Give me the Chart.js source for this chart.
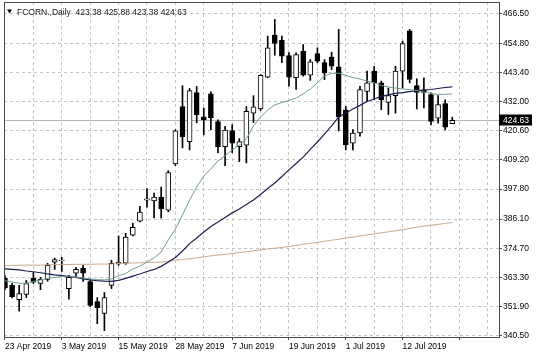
<!DOCTYPE html>
<html>
<head>
<meta charset="utf-8">
<script src="https://cdn.jsdelivr.net/npm/chart.js@4.4.0/dist/chart.umd.min.js"></script>
<style>
html,body{margin:0;padding:0;background:#ffffff;}
#wrap{width:536px;height:358px;position:relative;}
</style>
</head>
<body>
<div id="wrap"><canvas id="c" width="536" height="358"></canvas></div>
<script>
const symbolName = 'FCORN.,Daily';

const dates = ['23 Apr 2019','24 Apr 2019','25 Apr 2019','26 Apr 2019','29 Apr 2019','30 Apr 2019','1 May 2019','2 May 2019','3 May 2019','6 May 2019','7 May 2019','8 May 2019','9 May 2019','10 May 2019','13 May 2019','14 May 2019','15 May 2019','16 May 2019','17 May 2019','20 May 2019','21 May 2019','22 May 2019','23 May 2019','24 May 2019','28 May 2019','29 May 2019','30 May 2019','31 May 2019','3 Jun 2019','4 Jun 2019','5 Jun 2019','6 Jun 2019','7 Jun 2019','10 Jun 2019','11 Jun 2019','12 Jun 2019','13 Jun 2019','14 Jun 2019','17 Jun 2019','18 Jun 2019','19 Jun 2019','20 Jun 2019','21 Jun 2019','24 Jun 2019','25 Jun 2019','26 Jun 2019','27 Jun 2019','28 Jun 2019','1 Jul 2019','2 Jul 2019','3 Jul 2019','5 Jul 2019','8 Jul 2019','9 Jul 2019','10 Jul 2019','11 Jul 2019','12 Jul 2019','15 Jul 2019','16 Jul 2019','17 Jul 2019','18 Jul 2019','19 Jul 2019','22 Jul 2019','23 Jul 2019'];

const openP = [363.0,360.2,354.6,356.6,362.9,360.9,362.5,369.2,369.8,358.9,
  364.9,366.8,361.7,353.8,349.2,360.2,368.6,368.8,379.8,385.3,
  393.5,393.2,394.7,389.6,407.6,430.0,416.3,435.5,426.0,435.0,
  424.2,414.4,420.7,414.4,415.0,427.5,429.1,441.5,458.0,455.9,
  450.0,441.3,451.7,442.3,450.7,447.2,449.4,445.6,428.8,415.7,
  419.7,436.0,443.9,439.3,431.7,434.3,443.9,459.6,438.2,436.5,
  434.7,425.5,431.2,423.38];
const highP = [364.0,361.0,360.2,362.1,365.3,363.3,368.8,370.8,371.1,364.1,
  367.2,368.0,362.5,355.4,357.4,370.0,379.5,380.5,384.5,391.1,
  398.0,396.2,398.6,405.0,421.0,438.2,437.1,437.9,429.5,435.8,
  424.9,422.3,423.0,417.5,430.1,434.3,442.5,457.6,464.1,457.6,
  451.1,451.0,454.3,448.4,453.0,448.4,451.3,460.2,430.1,421.0,
  437.9,443.9,445.8,440.0,437.3,445.8,455.6,460.2,440.9,441.3,
  435.4,434.3,432.7,425.88];
const lowP = [358.5,355.3,350.1,355.4,360.9,358.5,361.8,366.4,365.6,354.8,
  363.3,361.7,351.9,345.2,342.5,358.9,368.0,368.4,379.5,385.0,
  390.7,386.5,386.5,388.9,407.0,413.9,413.1,423.7,419.0,421.0,
  411.9,406.9,412.0,408.5,408.0,423.8,428.5,441.3,450.1,447.2,
  438.0,436.7,441.9,440.3,447.2,440.6,444.5,420.5,413.1,413.1,
  418.5,432.1,432.7,428.8,426.9,427.5,437.3,439.3,429.1,429.5,
  422.9,423.6,420.9,423.38];
const closeP = [359.2,355.8,357.0,360.9,361.4,362.5,368.0,370.3,370.1,363.3,
  366.4,364.9,352.3,351.5,355.4,368.8,369.2,379.0,382.9,388.8,
  394.0,394.7,390.0,404.2,420.6,418.2,436.3,426.9,424.8,425.7,
  414.4,420.9,415.7,416.4,428.2,429.9,442.2,453.0,454.7,449.7,
  441.5,450.4,442.3,447.5,447.8,443.2,445.8,426.0,415.1,419.7,
  436.7,439.3,439.3,432.7,434.3,443.9,454.7,440.6,435.6,435.6,
  424.2,430.8,422.0,424.63];

const maFast = [362.0,361.5,361.0,361.0,361.7,362.3,362.9,363.3,363.6,363.8,
  363.4,363.1,362.7,362.4,362.3,362.7,364.0,364.8,366.6,367.7,
  369.3,370.9,373.2,377.9,382.2,387.7,393.5,398.6,402.9,405.7,
  408.8,410.9,413.1,415.0,417.4,422.5,426.0,428.7,430.7,431.6,
  432.4,433.4,435.0,436.9,439.3,442.0,443.0,443.1,442.2,441.4,
  440.8,440.0,439.3,438.3,437.7,437.3,436.9,436.7,436.3,435.7,
  435.2,434.8,434.8,435.0];
const maMid = [366.6,366.4,366.2,365.8,365.5,365.1,364.7,364.3,364.0,363.7,
  363.3,362.7,362.3,362.0,361.8,361.7,362.1,362.9,363.8,364.6,
  365.6,366.4,367.6,369.3,371.1,373.6,376.5,378.7,381.0,383.2,
  384.9,386.7,388.5,390.0,391.8,393.5,395.7,398.0,400.2,402.7,
  405.3,407.8,410.3,413.3,416.2,419.3,422.5,426.0,427.5,429.1,
  430.5,432.0,433.0,434.0,434.6,435.2,435.5,435.9,436.3,436.5,
  436.7,437.1,437.5,437.7];
const maSlow = [367.9,368.0,368.0,368.1,368.1,368.1,368.2,368.3,368.3,368.3,
  368.4,368.4,368.4,368.5,368.5,368.5,368.7,368.8,368.9,369.0,
  369.1,369.2,369.3,369.6,370.0,370.3,370.6,370.9,371.3,371.7,
  372.0,372.3,372.6,373.0,373.3,373.7,374.0,374.4,374.7,375.0,
  375.4,375.8,376.2,376.6,377.0,377.4,377.8,378.2,378.7,379.0,
  379.5,379.9,380.3,380.7,381.1,381.5,381.9,382.4,382.9,383.3,
  383.7,384.0,384.4,384.7];

const priceTicks = [466.50, 454.80, 443.40, 432.00, 420.60, 409.20, 397.80, 386.10, 374.70, 363.30, 351.90, 340.50];
const gridEveryBars = 4;
const labelEveryBars = 8;

const FONT = 'Liberation Sans, Arial, sans-serif';
const idx = dates.map((d, i) => i);
const lastI = closeP.length - 1;

const framePlugin = {
  id: 'mtFrame',
  beforeDatasetsDraw(chart) {
    const {ctx, chartArea, scales} = chart;
    const y = Math.round(scales.y.getPixelForValue(closeP[lastI])) + 0.5;
    ctx.save();
    ctx.strokeStyle = '#b4b4b4';
    ctx.lineWidth = 1;
    ctx.beginPath();
    ctx.moveTo(chartArea.left, y);
    ctx.lineTo(chartArea.right, y);
    ctx.stroke();
    ctx.restore();
  },
  afterDraw(chart) {
    const {ctx, chartArea, scales} = chart;
    ctx.save();
    ctx.strokeStyle = '#4a4a4a';
    ctx.lineWidth = 1;
    ctx.strokeRect(chartArea.left + 0.5, chartArea.top + 0.5, chartArea.right - chartArea.left, chartArea.bottom - chartArea.top);
    // current price tag
    const py = scales.y.getPixelForValue(closeP[lastI]);
    ctx.fillStyle = '#000000';
    ctx.fillRect(chartArea.right, Math.round(py) - 5.5, 33, 11);
    ctx.fillStyle = '#ffffff';
    ctx.font = '8.5px ' + FONT;
    ctx.textBaseline = 'middle';
    ctx.textAlign = 'left';
    ctx.fillText(closeP[lastI].toFixed(2), chartArea.right + 4, Math.round(py) + 0.5);
    // title
    ctx.fillStyle = '#000000';
    ctx.beginPath();
    ctx.moveTo(chartArea.left + 3, chartArea.top + 7.5);
    ctx.lineTo(chartArea.left + 8, chartArea.top + 7.5);
    ctx.lineTo(chartArea.left + 5.5, chartArea.top + 11.5);
    ctx.closePath();
    ctx.fill();
    ctx.fillStyle = '#202020';
    ctx.textBaseline = 'alphabetic';
    const ohlc = [openP[lastI], highP[lastI], lowP[lastI], closeP[lastI]].map(v => v.toFixed(2)).join(' ');
    ctx.fillText(symbolName + '  ' + ohlc, chartArea.left + 13, chartArea.top + 13);
    ctx.restore();
  }
};

new Chart(document.getElementById('c'), {
  type: 'bar',
  data: {
    datasets: [
      {
        type: 'line', label: 'MA fast',
        data: idx.map(i => ({x: i, y: maFast[i]})),
        borderColor: '#6e9e92', borderWidth: 1, pointRadius: 0, tension: 0, order: -3
      },
      {
        type: 'line', label: 'MA mid',
        data: idx.map(i => ({x: i, y: maMid[i]})),
        borderColor: '#1e1e4e', borderWidth: 1.2, pointRadius: 0, tension: 0, order: -2
      },
      {
        type: 'line', label: 'MA slow',
        data: idx.map(i => ({x: i, y: maSlow[i]})),
        borderColor: '#c9aa8c', borderWidth: 1, pointRadius: 0, tension: 0, order: -1
      },
      {
        type: 'bar', label: 'body',
        data: idx.map(i => ({x: i, y: [openP[i], closeP[i]]})),
        backgroundColor: c => (closeP[c.dataIndex] >= openP[c.dataIndex] ? '#ffffff' : '#000000'),
        borderColor: '#000000', borderWidth: 1, borderSkipped: false,
        barThickness: 5, grouped: false, order: 0
      },
      {
        type: 'bar', label: 'wick',
        data: idx.map(i => ({x: i, y: [lowP[i], highP[i]]})),
        backgroundColor: '#000000', borderWidth: 0,
        barThickness: 1, grouped: false, order: 1
      }
    ]
  },
  options: {
    responsive: false,
    animation: false,
    events: [],
    layout: {padding: {left: 4, top: 2, right: 0, bottom: 0}},
    plugins: {legend: {display: false}, tooltip: {enabled: false}, title: {display: false}},
    scales: {
      x: {
        type: 'linear', min: -0.14, max: 69.58, offset: false,
        afterBuildTicks: s => {
          const t = [];
          for (let v = 0; v <= s.max; v += gridEveryBars) t.push({value: v});
          s.ticks = t;
        },
        afterFit: s => { s.height = 21; s.paddingLeft = 0; s.paddingRight = 0; },
        ticks: {
          autoSkip: false, maxRotation: 0, minRotation: 0, align: 'start', padding: 2,
          color: '#000000', font: {family: FONT, size: 8.5},
          callback: v => (v % labelEveryBars === 0 && dates[v] ? dates[v] : '')
        },
        grid: {
          offset: false, color: '#c4c4c4', lineWidth: 1, tickLength: 3,
          tickColor: c => (c.tick && c.tick.value % labelEveryBars === 0 ? '#4a4a4a' : 'rgba(0,0,0,0)')
        },
        border: {display: true, color: '#4a4a4a', width: 1, dash: [3, 3]}
      },
      y: {
        type: 'linear', position: 'right', min: 340.0, max: 470.9,
        afterBuildTicks: s => { s.ticks = priceTicks.map(v => ({value: v})); },
        afterFit: s => { s.width = 37; s.paddingTop = 0; s.paddingBottom = 0; },
        ticks: {
          padding: 1, color: '#000000', font: {family: FONT, size: 8.5},
          callback: v => Number(v).toFixed(2)
        },
        grid: {color: '#c4c4c4', lineWidth: 1, tickLength: 3, tickColor: '#4a4a4a'},
        border: {display: true, color: '#4a4a4a', width: 1, dash: [3, 3]}
      }
    }
  },
  plugins: [framePlugin]
});
</script>
</body>
</html>
